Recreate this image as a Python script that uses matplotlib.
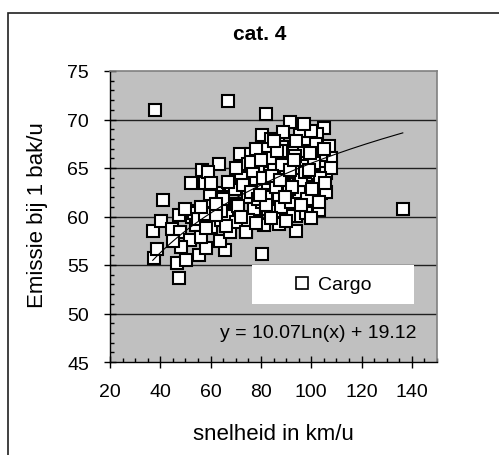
import numpy as np
import matplotlib
matplotlib.use("Agg")
import matplotlib.pyplot as plt
from matplotlib.patches import Rectangle
from matplotlib.lines import Line2D
from matplotlib.ticker import MultipleLocator

plt.rcParams['font.family'] = ['Liberation Sans', 'DejaVu Sans']

title = "cat. 4"
x_label = "snelheid in km/u"
y_label = "Emissie bij 1 bak/u"
series_name = "Cargo"
fit_a, fit_b = 10.07, 19.12
fit_label = "y = 10.07Ln(x) + 19.12"

speed = [
    37.8, 67.1, 82.0, 136.4, 93.9, 80.5, 41.1, 47.3, 46.7, 50.1, 55.2, 37.4, 65.8,
    37.0, 40.2, 38.5, 44.7, 47.5, 48.0, 52.1, 56.7, 57.9, 63.4, 71.5, 76.1,
    58.8, 62.6, 68.2, 59.9, 59.6, 64.6, 66.2, 54.3, 52.7, 61.6, 68.8,
    53.5, 54.3, 52.0, 48.1, 58.0, 60.3, 56.3, 63.6, 67.9, 64.0, 66.5, 64.9, 70.2,
    91.7, 105.1, 80.5, 80.5, 86.7, 88.6, 95.5, 98.5, 102.1, 106.9, 107.8, 102.5,
    96.5, 91.3, 86.7, 81.4, 74.8, 74.1, 78.1, 82.7, 88.0, 93.3, 100.5, 102.5,
    96.6, 101.2, 90.0, 85.3, 89.3, 84.7, 80.7, 74.8, 69.5, 77.4, 70.8, 82.7, 93.9,
    73.9, 81.4, 69.9, 74.8, 91.3, 97.9, 86.0,
    64.9, 64.2, 80.5, 85.7, 55.0, 57.6, 74.1, 87.3,
    84.0, 90.0, 93.0, 97.0, 100.0, 104.0, 106.0, 104.0, 99.0, 95.0, 92.0, 87.0,
    83.0, 79.0, 77.0, 85.0, 90.0, 95.0, 98.0, 102.0, 88.0, 83.0, 78.0, 76.0,
    72.0, 70.0, 67.0, 73.0, 76.0, 79.0, 82.0, 88.0, 92.0, 95.0, 98.0, 103.0,
    100.0, 90.0, 84.0, 78.0, 72.0, 66.0, 62.0, 60.0, 62.0, 56.0, 50.0, 58.0,
    45.0, 106.0, 108.0, 104.0, 100.0, 97.0,
    81.0, 83.5, 86.0, 88.5, 91.0, 93.5, 96.0, 98.5, 101.0, 103.5,
    80.0, 84.5, 87.5, 92.5, 97.5, 99.5, 103.0, 105.5, 89.5, 94.0,
    82.0, 86.5, 91.5, 96.0, 100.5, 105.0, 79.5, 85.0, 93.0, 99.0,
]
emission = [
    71.0, 71.9, 70.6, 60.8, 58.5, 56.1, 61.7, 53.7, 55.2, 55.5, 56.0, 55.7, 56.5,
    58.5, 59.5, 56.6, 58.7, 60.2, 58.4, 63.5, 64.8, 63.5, 65.4, 66.4, 66.4,
    64.6, 62.4, 63.0, 62.1, 61.1, 62.0, 60.9, 60.6, 60.0, 60.4, 60.4,
    60.4, 59.1, 57.6, 56.9, 56.8, 58.9, 57.9, 57.5, 58.4, 59.6, 60.3, 61.3, 61.3,
    69.7, 69.1, 67.6, 68.4, 67.5, 68.7, 68.4, 67.6, 68.5, 67.3, 66.0, 66.7,
    65.6, 66.3, 65.9, 66.6, 65.4, 64.0, 63.9, 64.5, 64.4, 64.6, 64.2, 63.2,
    62.0, 61.1, 60.8, 61.6, 63.2, 62.8, 62.7, 62.0, 62.8, 60.8, 61.1, 60.8, 60.1,
    58.5, 59.1, 59.4, 59.6, 60.1, 61.1, 61.5,
    61.8, 60.6, 61.5, 60.6, 59.7, 60.3, 58.4, 59.2,
    68.0, 67.2, 67.0, 66.8, 66.0, 65.3, 64.5, 62.4, 63.0, 63.5, 62.3, 62.0,
    63.5, 65.2, 64.7, 65.0, 65.6, 64.9, 65.2, 67.5, 66.8, 67.0, 67.0, 65.6,
    64.0, 65.0, 63.6, 63.2, 62.5, 61.8, 62.0, 61.0, 61.5, 62.5, 60.4, 60.7,
    59.8, 59.5, 59.8, 59.3, 60.0, 59.0, 60.2, 63.5, 61.3, 61.0, 60.8, 58.8,
    57.5, 62.5, 65.0, 66.3, 68.8, 69.5,
    64.0, 66.0, 63.0, 65.3, 62.8, 66.2, 63.8, 61.8, 65.5, 64.0,
    65.8, 64.2, 63.8, 63.0, 64.6, 66.5, 61.5, 63.5, 62.0, 67.8,
    61.2, 66.8, 64.8, 61.2, 62.8, 67.0, 62.2, 67.8, 65.8, 64.8,
]

x_ticks = [20, 40, 60, 80, 100, 120, 140]
y_ticks = [45, 50, 55, 60, 65, 70, 75]

W, H = 499, 456
fig = plt.figure(figsize=(W / 100, H / 100), dpi=100)
fig.patch.set_facecolor("white")

# outer chart frame (left and top edges visible)
fig.patches.append(Rectangle((8 / W, -0.2), 1.2, 1.2 - 14 / H,
                             transform=fig.transFigure, fill=False,
                             edgecolor="#202020", linewidth=1.2))

ax = fig.add_axes([110 / W, 1 - 363 / H, 327 / W, 291 / H])
ax.set_facecolor("#c0c0c0")
ax.set_xlim(20, 150)
ax.set_ylim(45, 75)

for y in y_ticks[1:-1]:
    ax.axhline(y, color="#202020", linewidth=1.0, zorder=1)

for side in ("top", "right"):
    ax.spines[side].set_color("#808080")
    ax.spines[side].set_linewidth(1.2)
for side in ("left", "bottom"):
    ax.spines[side].set_color("black")
    ax.spines[side].set_linewidth(1.0)

ax.set_xticks(x_ticks)
ax.set_yticks(y_ticks)
ax.xaxis.set_minor_locator(MultipleLocator(5))
ax.yaxis.set_minor_locator(MultipleLocator(1))
ax.tick_params(which="major", direction="inout", length=8, width=1.0,
               labelsize=14, colors="black")
ax.tick_params(axis="x", which="major", pad=11)
ax.tick_params(axis="y", which="major", pad=11)
ax.tick_params(which="minor", direction="in", length=3, width=1.0)

ax.plot(speed, emission, linestyle="none", marker="s", markersize=9.2,
        markerfacecolor="white", markeredgecolor="black",
        markeredgewidth=1.5, zorder=3)

xf = np.linspace(min(speed), max(speed), 200)
ax.plot(xf, fit_a * np.log(xf) + fit_b, color="black", linewidth=0.8, zorder=4)

# legend box
ax.add_patch(Rectangle((0.434, 0.199), 0.496, 0.134, transform=ax.transAxes,
                       facecolor="white", edgecolor="none", zorder=5))
handle = Line2D([], [], linestyle="none", marker="s", markersize=8,
                markerfacecolor="white", markeredgecolor="black",
                markeredgewidth=1.2)
leg = ax.legend([handle], [series_name], loc="center",
                bbox_to_anchor=(0.682, 0.266), bbox_transform=ax.transAxes,
                frameon=False, fontsize=14, handlelength=0.8,
                handletextpad=0.4)
leg.set_zorder(6)

ax.text(0.636, 0.103, fit_label, transform=ax.transAxes, ha="center",
        va="center", fontsize=14, zorder=6)

fig.text(260 / W, 1 - 35 / H, title, ha="center", va="center",
         fontsize=15, fontweight="bold")
fig.text(273 / W, 1 - 435 / H, x_label, ha="center", va="center", fontsize=16)
fig.text(38 / W, 1 - 215 / H, y_label, ha="center", va="center",
         fontsize=16, rotation=90)

fig.savefig("out.png", dpi=100)
